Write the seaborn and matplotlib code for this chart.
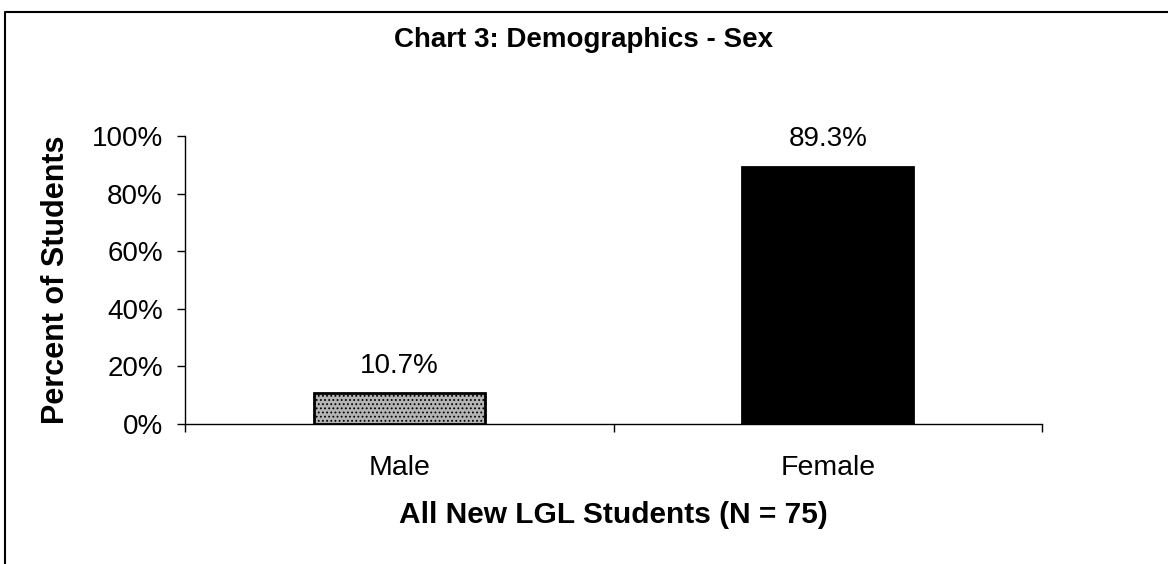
import matplotlib.pyplot as plt
import matplotlib.lines as mlines
import pandas as pd
import seaborn as sns
from matplotlib.ticker import PercentFormatter

categories = ["Male", "Female"]
percents = [10.7, 89.3]
bar_colors = ["#b4b4b4", "#000000"]

sns.set_theme(style="white")
plt.rcParams["font.family"] = ["Liberation Sans", "DejaVu Sans"]
plt.rcParams["text.color"] = "black"
plt.rcParams["axes.labelcolor"] = "black"
plt.rcParams["hatch.linewidth"] = 0.8

df = pd.DataFrame({"sex": categories, "pct": percents})

W, H = 1168, 564
fig = plt.figure(figsize=(W / 100, H / 100), dpi=100)
ax = fig.add_axes([185 / W, 1 - 424 / H, (1042 - 185) / W, (424 - 136) / H])

sns.barplot(data=df, x="sex", y="pct", hue="sex", palette=bar_colors,
            legend=False, width=0.4, edgecolor="black", linewidth=2, ax=ax)
# stippled look of the male bar
ax.patches[0].set_hatch("....")

ax.set_ylim(0, 100)
ax.set_xlim(-0.5, 1.5)
ax.set_yticks(range(0, 101, 20))
ax.yaxis.set_major_formatter(PercentFormatter(decimals=0))
ax.set_xticks([0, 1])
ax.set_xticklabels(categories)
ax.set_xticks([-0.5, 0.5, 1.5], minor=True)
ax.tick_params(axis="x", which="major", bottom=False, length=0, labelsize=20.5,
               pad=22, labelcolor="black")
ax.tick_params(axis="x", which="minor", bottom=True, length=6, width=1,
               direction="out", color="black")
ax.tick_params(axis="y", left=True, length=6, width=1, direction="out",
               labelsize=20, pad=10, color="black", labelcolor="black")

for s in ["top", "right"]:
    ax.spines[s].set_visible(False)
for s in ["left", "bottom"]:
    ax.spines[s].set_color("black")
    ax.spines[s].set_linewidth(1)

for i, v in enumerate(percents):
    ax.text(i, v + 5, f"{v:.1f}%", ha="center", va="bottom", fontsize=20, color="black")

ax.set_xlabel("All New LGL Students (N = 75)", fontsize=21.5, fontweight="bold",
              labelpad=15, color="black")
ax.set_ylabel("Percent of Students", fontsize=22, fontweight="bold",
              labelpad=15, color="black")
fig.text(584 / W, 1 - 40 / H, "Chart 3: Demographics - Sex", fontsize=20,
         fontweight="bold", ha="center", va="center", color="black")

# chart border (only top and left edges fall inside the image)
fig.add_artist(mlines.Line2D([5 / W, 5 / W, 1], [0, 1 - 12 / H, 1 - 12 / H],
                             transform=fig.transFigure, color="black", linewidth=1.5))

fig.savefig("out.png", dpi=100)
